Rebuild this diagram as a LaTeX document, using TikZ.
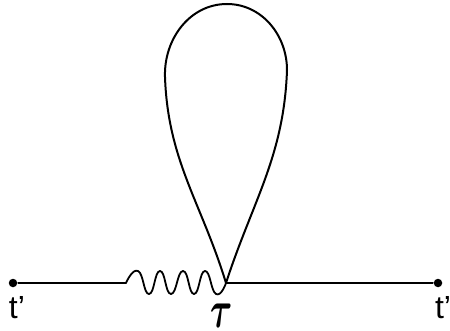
\documentclass[tikz,border=0pt]{standalone}
\usepackage{fontspec}
\setmainfont{Liberation Sans}

\begin{document}
\begin{tikzpicture}[line width=2pt, line cap=round, line join=round, x=1pt, y=1pt,
    dot/.style={circle, fill, inner sep=0pt, minimum size=8.5pt},
    lbl/.style={font=\fontsize{32}{34}\selectfont, inner sep=0pt}]
  \useasboundingbox (0,0) rectangle (450,330);
  \node[dot] (tl) at (13,47) {};
  \node[dot] (tr) at (438,47) {};
  \coordinate (vtx) at (226,47);
  \coordinate (w0) at (126,47);
  \draw (tl) -- (w0);
  % photon line
  \draw[line width=1.8pt] plot[smooth, tension=0.9] coordinates {(126,47) (138,59) (149,36) (160,59) (171,36) (183,59) (194,36) (205,59) (216,36) (226,47)};
  \draw (vtx) -- (tr);
  % tadpole loop
  \draw (vtx) to[out=107,in=-88] (165,253) to[out=92,in=180] (227,326)
    to[out=0,in=90] (287,260) to[out=-92,in=72] (vtx);
  \node[lbl, anchor=base west] (tlab) at (8,12) {t'};
  \node[lbl, anchor=base west] (trlab) at (434,12) {t'};
  \node[inner sep=0pt] (taulab) at (222,14) {\scalebox{3.4}[5.3]{\boldmath$\tau$}};
\end{tikzpicture}
\end{document}
